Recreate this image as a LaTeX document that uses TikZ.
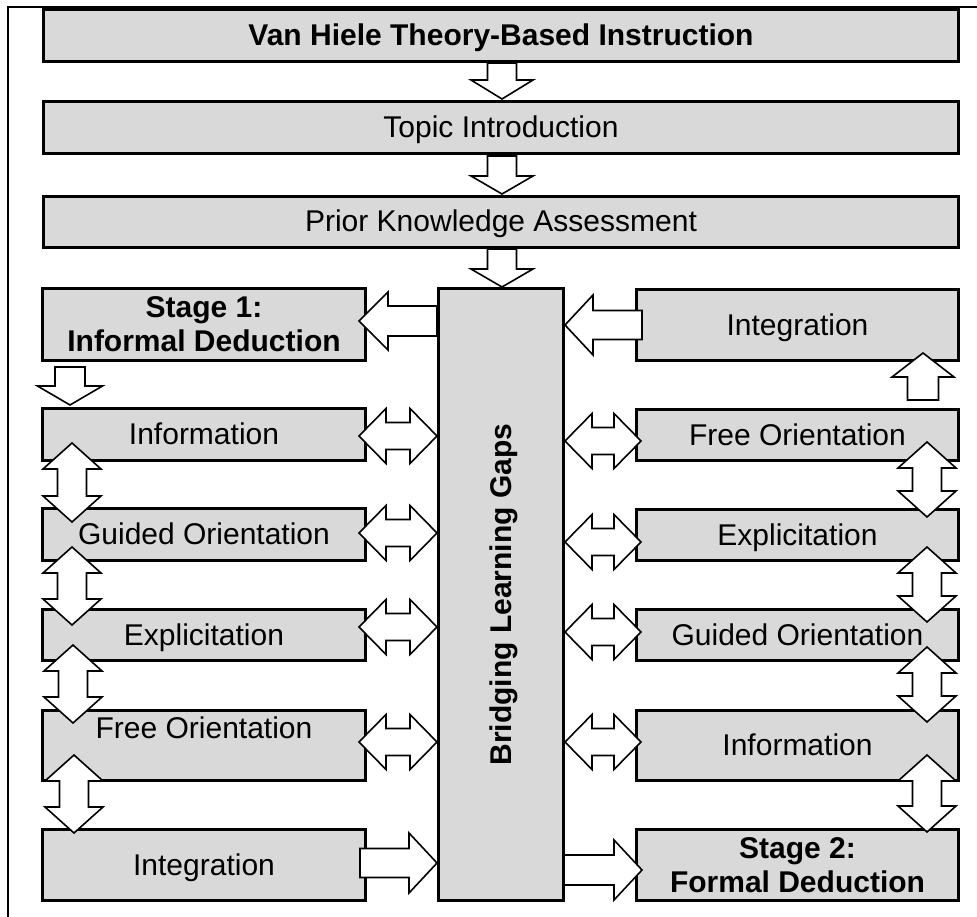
\documentclass[tikz,border=0pt]{standalone}
\usepackage{fontspec}
\setmainfont{Liberation Sans}
\usetikzlibrary{calc}
\definecolor{boxgray}{RGB}{217,217,217}
\newcommand\ls{\rule[-7pt]{0pt}{34pt}}
% horizontal double arrow: left tip x, right tip x, y
\newcommand\hdarrow[3]{%
  \pgfmathsetmacro\bkA{#1+27}\pgfmathsetmacro\bkB{#2-27}%
  \pgfmathsetmacro\bkC{#3-27.5}\pgfmathsetmacro\bkD{#3-13.5}%
  \pgfmathsetmacro\bkE{#3+13.5}\pgfmathsetmacro\bkF{#3+27.5}%
  \draw[blockarrow] (#1,#3) -- (\bkA,\bkC) -- (\bkA,\bkD) -- (\bkB,\bkD) -- (\bkB,\bkC) -- (#2,#3)
    -- (\bkB,\bkF) -- (\bkB,\bkE) -- (\bkA,\bkE) -- (\bkA,\bkF) -- cycle;}
% vertical double arrow: x, top tip y, bottom tip y
\newcommand\vdarrow[3]{%
  \pgfmathsetmacro\bkA{#2+26}\pgfmathsetmacro\bkB{#3-26}%
  \pgfmathsetmacro\bkC{#1-29}\pgfmathsetmacro\bkD{#1-14.5}%
  \pgfmathsetmacro\bkE{#1+14.5}\pgfmathsetmacro\bkF{#1+29}%
  \draw[blockarrow] (#1,#2) -- (\bkF,\bkA) -- (\bkE,\bkA) -- (\bkE,\bkB) -- (\bkF,\bkB) -- (#1,#3)
    -- (\bkC,\bkB) -- (\bkD,\bkB) -- (\bkD,\bkA) -- (\bkC,\bkA) -- cycle;}
% single horizontal arrow: tail x, tip x, y, stem half, head half, head length (signed)
\newcommand\harrow[6]{%
  \pgfmathsetmacro\bkA{#2-(#6)}%
  \pgfmathsetmacro\bkC{#3-#4}\pgfmathsetmacro\bkD{#3+#4}%
  \pgfmathsetmacro\bkE{#3-#5}\pgfmathsetmacro\bkF{#3+#5}%
  \draw[blockarrow] (#1,\bkC) -- (\bkA,\bkC) -- (\bkA,\bkE) -- (#2,#3) -- (\bkA,\bkF) -- (\bkA,\bkD) -- (#1,\bkD) -- cycle;}
% single vertical arrow: x, tail y, tip y, stem half, head half, head length (signed)
\newcommand\varrow[6]{%
  \pgfmathsetmacro\bkA{#3-(#6)}%
  \pgfmathsetmacro\bkC{#1-#4}\pgfmathsetmacro\bkD{#1+#4}%
  \pgfmathsetmacro\bkE{#1-#5}\pgfmathsetmacro\bkF{#1+#5}%
  \draw[blockarrow] (\bkC,#2) -- (\bkC,\bkA) -- (\bkE,\bkA) -- (#1,#3) -- (\bkF,\bkA) -- (\bkD,\bkA) -- (\bkD,#2) -- cycle;}
\begin{document}
\begin{tikzpicture}[x=1pt,y=-1pt,
  gbox/.style={draw,line width=3pt,fill=boxgray,inner sep=0pt,align=center,
    font=\fontsize{30}{34}\selectfont},
  blockarrow/.style={draw,fill=white,line width=1.6pt,line join=miter}]
\useasboundingbox (0,0) rectangle (977,917);
\draw[line width=1.2pt] (8,917) -- (8,7) -- (977,7);
% top boxes
\node[gbox,minimum width=915pt,minimum height=52pt] (title) at (501,35.5) {\bfseries\ls Van Hiele Theory-Based Instruction};
\node[gbox,minimum width=915pt,minimum height=52pt] (topic) at (501,127.5) {\ls Topic Introduction};
\node[gbox,minimum width=915pt,minimum height=51pt] (prior) at (501,222) {\ls Prior Knowledge Assessment};
% centre
\node[gbox,rotate=90,minimum width=612pt,minimum height=125pt] (bridge) at (501,594.5) {\bfseries\ls Bridging Learning Gaps};
% left column
\node[gbox,minimum width=323pt,minimum height=72pt] (ls1) at (204,324.5) {\bfseries\ls Stage 1:\\\bfseries\ls Informal Deduction};
\node[gbox,minimum width=323pt,minimum height=52pt] (linfo) at (204,434.5) {\ls Information};
\node[gbox,minimum width=323pt,minimum height=52pt] (lguid) at (204,534.5) {\ls Guided Orientation};
\node[gbox,minimum width=323pt,minimum height=51pt] (lexpl) at (204,635) {\ls Explicitation};
\node[gbox,minimum width=323pt,minimum height=70pt] (lfree) at (204,745.5) {\ls Free Orientation\\\ls};
\node[gbox,minimum width=323pt,minimum height=71pt] (linteg) at (204,865) {\ls Integration};
% right column
\node[gbox,minimum width=322pt,minimum height=71pt] (rinteg) at (797.5,325) {\ls Integration};
\node[gbox,minimum width=322pt,minimum height=51pt] (rfree) at (797.5,435) {\ls Free Orientation};
\node[gbox,minimum width=322pt,minimum height=51pt] (rexpl) at (797.5,535) {\ls Explicitation};
\node[gbox,minimum width=322pt,minimum height=51pt] (rguid) at (797.5,635) {\ls Guided Orientation};
\node[gbox,minimum width=322pt,minimum height=70pt] (rinfo) at (797.5,745.5) {\ls Information};
\node[gbox,minimum width=322pt,minimum height=71pt] (rs2) at (797.5,865) {\bfseries\ls Stage 2:\\\bfseries\ls Formal Deduction};
% top arrows
\varrow{502}{63}{99}{14.5}{31}{19}
\varrow{502}{156}{194}{14.5}{31}{18}
\varrow{502}{249}{287}{14.5}{31}{18}
% stage 1 entry
\harrow{437}{359}{321}{15}{29}{-29}
\varrow{70}{367}{405}{15}{32.5}{19}
% left column links
\hdarrow{359}{437}{436}
\hdarrow{359}{437}{533}
\hdarrow{359}{437}{627}
\hdarrow{359}{437}{742}
\vdarrow{72}{443}{522}
\vdarrow{72}{547}{625}
\vdarrow{73}{645}{723}
\vdarrow{74}{755}{833}
\harrow{360}{437}{863}{14.5}{30}{28}
% right column links
\harrow{642}{565}{325}{14.5}{30}{-28}
\varrow{923}{400}{353}{15.5}{31}{-24}
\hdarrow{565}{641}{441}
\hdarrow{565}{641}{542}
\hdarrow{565}{641}{632}
\hdarrow{565}{641}{742}
\vdarrow{927}{442}{517}
\vdarrow{927}{547}{622}
\vdarrow{927}{647}{722}
\vdarrow{927}{755}{832}
\harrow{564}{642}{870}{15}{30}{28}
\end{tikzpicture}
\end{document}
